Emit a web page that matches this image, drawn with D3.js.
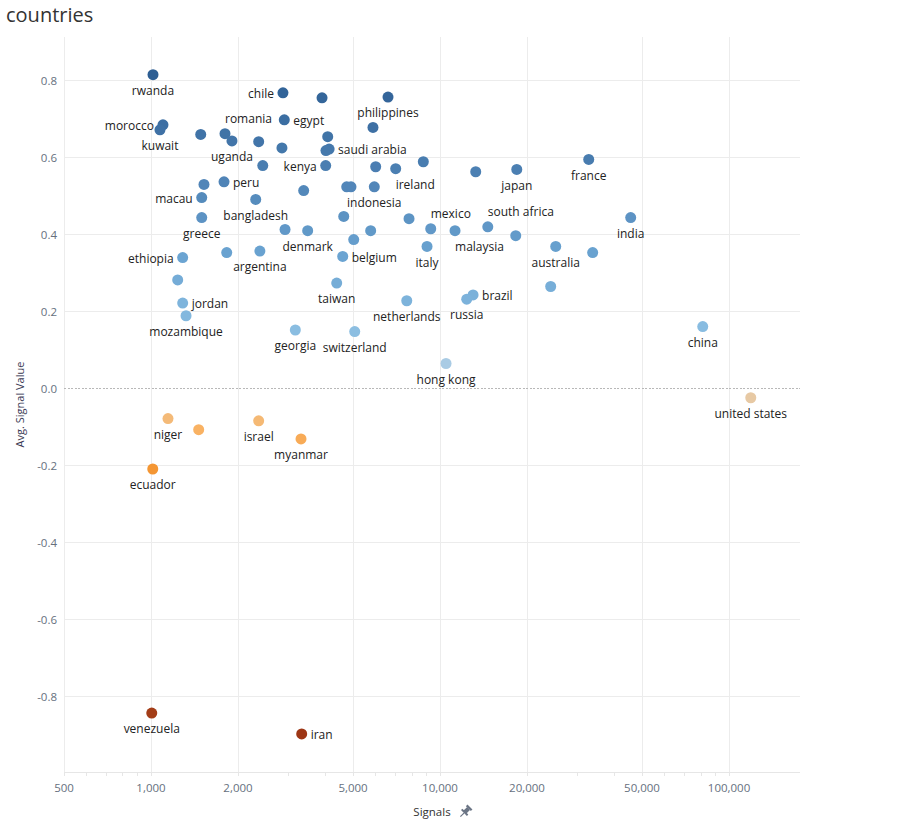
<!DOCTYPE html>
<html><head><meta charset="utf-8">
<script src="https://cdn.jsdelivr.net/npm/d3@7"></script>
<style>body{margin:0;background:#fff;} svg{display:block;font-family:"Open Sans","Noto Sans",sans-serif;}</style>
</head><body><svg id="c" width="910" height="824"></svg>
<script>
// ---- data ----
const countries = ["rwanda","chile","","philippines","","morocco","kuwait","","romania","uganda",
  "","","egypt","","saudi arabia","","","kenya","","ireland",
  "","","japan","france","","peru","macau","bangladesh","","",
  "","indonesia","greece","","denmark","","","","belgium","ethiopia",
  "","argentina","","jordan","mozambique","taiwan","netherlands","georgia","switzerland","hong kong",
  "","mexico","malaysia","south africa","","italy","australia","","india","",
  "brazil","russia","china","united states","niger","","israel","myanmar","ecuador","venezuela","iran"];
const signals = [1016,2861,3906,6607,5862,1100,1074,1486,1803,1906,
  2358,2838,2892,4087,4133,4030,2436,4022,5990,7025,
  8754,13290,18430,32700,1525,1789,1498,2303,3375,4755,
  4920,5924,1498,2909,3484,4644,5028,5755,4606,1287,
  1828,2381,1237,1287,1322,4391,7672,3158,5068,10490,
  7812,9287,11270,14630,18280,9016,25140,33740,45680,24150,
  13010,12370,81100,118900,1145,1462,2358,3304,1014,1006,3322];
const avgSignal = [0.816,0.769,0.756,0.758,0.679,0.686,0.673,0.661,0.663,0.644,
  0.642,0.626,0.699,0.655,0.623,0.619,0.580,0.580,0.577,0.572,
  0.590,0.564,0.570,0.596,0.531,0.538,0.497,0.492,0.515,0.525,
  0.525,0.525,0.445,0.414,0.411,0.448,0.388,0.411,0.344,0.341,
  0.354,0.358,0.283,0.223,0.190,0.275,0.229,0.153,0.149,0.066,
  0.442,0.416,0.411,0.421,0.398,0.370,0.370,0.354,0.445,0.266,
  0.244,0.233,0.162,-0.023,-0.077,-0.106,-0.083,-0.130,-0.208,-0.842,-0.896];
const xTicks = [500,1000,2000,5000,10000,20000,50000,100000];
const yTicks = [-0.8,-0.6,-0.4,-0.2,0,0.2,0.4,0.6,0.8];

// ---- layout (label placement relative to each mark) ----
const labelPlacement = ["b","l","","b","","l","b","","tr","b",
  "","","r","","r","","","l","","br",
  "","","b","b","","r","l","b","","",
  "","b","b","","b","","","","r","l",
  "","b","","r","b","b","b","b","b","b",
  "","tr","br","tr","","b","b","","b","",
  "r","b","b","b","b","","b","b","b","b","r"];

const svg = d3.select("#c");
const L = 64, R = 800, T = 37, B = 772;
const x = d3.scaleLog().domain([500, 176000]).range([L, R]);
const y = d3.scaleLinear().domain([-0.995, 0.914]).range([B, T]);
const color = d3.scaleLinear()
  .domain([-0.9, -0.2, -0.1, -0.02, 0.066, 0.16, 0.35, 0.55, 0.82])
  .range(["#9c3515","#f59733","#f9b466","#e6caa6","#a9cbe4","#88bce1","#6aa3d1","#4e82b5","#2c5d92"])
  .clamp(true);

// title
svg.append("text").attr("x", 6).attr("y", 22).attr("font-size", 20)
  .attr("fill", "#333").text("countries");

// gridlines
const g = svg.append("g");
g.selectAll(".hg").data(yTicks.filter(d => d !== 0)).join("line")
  .attr("x1", L).attr("x2", R).attr("y1", d => y(d)).attr("y2", d => y(d))
  .attr("stroke", "#ececec").attr("stroke-width", 1).attr("shape-rendering", "crispEdges");
g.selectAll(".vg").data(xTicks).join("line")
  .attr("x1", d => x(d)).attr("x2", d => x(d)).attr("y1", T).attr("y2", B)
  .attr("stroke", "#ececec").attr("stroke-width", 1).attr("shape-rendering", "crispEdges");
// bottom axis line + minor ticks
g.append("line").attr("x1", L).attr("x2", R).attr("y1", B).attr("y2", B)
  .attr("stroke", "#e6e6e6").attr("shape-rendering", "crispEdges");
const minor = x.ticks(30).filter(d => d >= 500 && d <= 176000);
g.selectAll(".mt").data(minor).join("line")
  .attr("x1", d => x(d)).attr("x2", d => x(d)).attr("y1", B).attr("y2", B + 4)
  .attr("stroke", "#e6e6e6").attr("shape-rendering", "crispEdges");
// zero line
g.append("line").attr("x1", L).attr("x2", R).attr("y1", y(0)).attr("y2", y(0))
  .attr("stroke", "#b8b8b8").attr("stroke-dasharray", "2,1.5").attr("shape-rendering", "crispEdges");

// axis tick labels
const fmt = d3.format(",");
const yfmt = d => d3.format(".1f")(d).replace("\u2212", "-");
svg.append("g").selectAll("text").data(xTicks).join("text")
  .attr("x", d => x(d)).attr("y", 792).attr("text-anchor", "middle")
  .attr("font-size", 11.5).attr("fill", "#66707e").text(d => fmt(d));
svg.append("g").selectAll("text").data(yTicks).join("text")
  .attr("x", 57).attr("y", d => y(d)).attr("dy", "0.35em").attr("text-anchor", "end")
  .attr("font-size", 11.5).attr("fill", "#66707e").text(yfmt);

// axis titles
svg.append("text").attr("transform", `translate(24,${(T + B) / 2}) rotate(-90)`)
  .attr("text-anchor", "middle").attr("font-size", 11).attr("fill", "#3b3b55").text("Avg. Signal Value");
svg.append("text").attr("x", 432).attr("y", 816).attr("text-anchor", "middle")
  .attr("font-size", 11.5).attr("fill", "#333").text("Signals");
// pin icon
const pin = svg.append("g").attr("transform", "translate(465,812) rotate(45)").attr("fill", "#6b7585");
pin.append("rect").attr("x", -3.5).attr("y", -7).attr("width", 7).attr("height", 2.2);
pin.append("rect").attr("x", -2).attr("y", -5).attr("width", 4).attr("height", 5);
pin.append("rect").attr("x", -4.2).attr("y", -0.5).attr("width", 8.4).attr("height", 2);
pin.append("rect").attr("x", -0.6).attr("y", 1.5).attr("width", 1.2).attr("height", 5);

// data
const data = countries.map((c, i) => ({ c, s: signals[i], v: avgSignal[i], p: labelPlacement[i] }));

svg.append("g").selectAll("circle").data(data).join("circle")
  .attr("cx", d => x(d.s)).attr("cy", d => y(d.v)).attr("r", 5.5)
  .attr("fill", d => color(d.v));

const off = {
  b: { a: "middle", dx: 0, dy: 16 },
  l: { a: "end", dx: -9, dy: 1 },
  r: { a: "start", dx: 9, dy: 1 },
  tr: { a: "start", dx: 0, dy: -15 },
  br: { a: "start", dx: 0, dy: 16 }
};
svg.append("g").selectAll("text").data(data.filter(d => d.c && d.p)).join("text")
  .attr("x", d => x(d.s) + off[d.p].dx).attr("y", d => y(d.v) + off[d.p].dy)
  .attr("dy", "0.35em").attr("text-anchor", d => off[d.p].a)
  .attr("font-size", 12).attr("fill", "#222").text(d => d.c);
</script></body></html>
